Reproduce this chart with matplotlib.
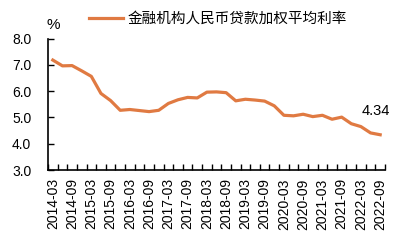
import numpy as np
import matplotlib.pyplot as plt

plt.rcParams['font.family'] = ['Liberation Sans', 'Noto Sans CJK SC', 'DejaVu Sans']

quarters = ["2014-03", "2014-06", "2014-09", "2014-12", "2015-03", "2015-06", "2015-09", "2015-12",
            "2016-03", "2016-06", "2016-09", "2016-12", "2017-03", "2017-06", "2017-09", "2017-12",
            "2018-03", "2018-06", "2018-09", "2018-12", "2019-03", "2019-06", "2019-09", "2019-12",
            "2020-03", "2020-06", "2020-09", "2020-12", "2021-03", "2021-06", "2021-09", "2021-12",
            "2022-03", "2022-06", "2022-09"]
rate = [7.18, 6.96, 6.97, 6.77, 6.56, 5.91, 5.64, 5.27,
        5.30, 5.26, 5.22, 5.27, 5.53, 5.67, 5.76, 5.74,
        5.96, 5.97, 5.94, 5.63, 5.69, 5.66, 5.62, 5.44,
        5.08, 5.06, 5.12, 5.03, 5.08, 4.93, 5.01, 4.76,
        4.65, 4.41, 4.34]
series_name = "金融机构人民币贷款加权平均利率"

x = np.arange(len(quarters))

fig = plt.figure(figsize=(4.1, 2.4), dpi=100)
ax = fig.add_axes([48/410, 1 - 170/240, 337/410, 131.5/240])

line, = ax.plot(x, rate, color="#E07A42", lw=2.3, solid_joinstyle="round", label=series_name)

ax.set_xlim(-0.5, len(quarters) - 0.5)
ax.set_ylim(3.0, 8.0)
ax.set_yticks(np.arange(3.0, 8.01, 1.0))
ax.set_yticklabels(["%.1f" % v for v in np.arange(3.0, 8.01, 1.0)], fontsize=10)
ax.set_xticks(x[::2])
ax.set_xticklabels(quarters[::2], rotation=90, fontsize=10)
ax.set_xticks(np.arange(-0.5, len(quarters)), minor=True)
ax.tick_params(axis="x", which="major", length=0, pad=6)
ax.tick_params(axis="x", which="minor", direction="in", length=4, width=1)
ax.tick_params(axis="y", direction="in", length=4, width=1, pad=12)

for s in ["top", "right"]:
    ax.spines[s].set_visible(False)
for s in ["left", "bottom"]:
    ax.spines[s].set_linewidth(1.2)

ax.annotate("%.2f" % rate[-1], (x[-1], rate[-1]), xytext=(-3, 12), textcoords="offset points",
            ha="center", va="bottom", fontsize=10.5)
fig.text(53/410, 1 - 25/240, "%", ha="center", va="center", fontsize=11)

fig.legend(handles=[line], loc="center", bbox_to_anchor=(218/410, 1 - 19/240), frameon=False,
           handlelength=2.3, handletextpad=0.3, prop={"family": "Noto Sans CJK SC", "size": 10.5})

fig.savefig("out.png", dpi=100)
